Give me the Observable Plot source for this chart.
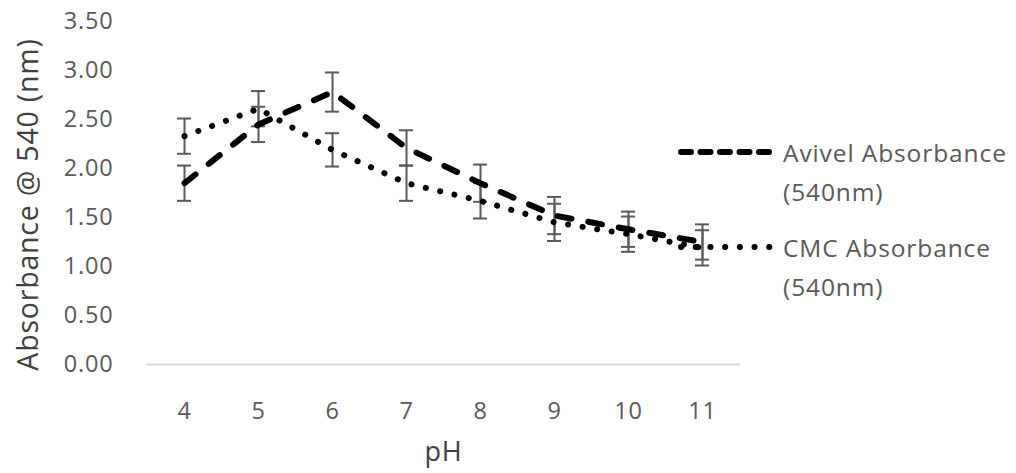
<!DOCTYPE html>
<html><head><meta charset="utf-8">
<script src="https://cdn.jsdelivr.net/npm/d3@7"></script>
<script src="https://cdn.jsdelivr.net/npm/@observablehq/plot@0.6"></script>
<style>
html,body{margin:0;padding:0;background:#fff;}
#wrap{position:relative;width:1016px;height:473px;font-family:"Open Sans",sans-serif;}
.lg{position:absolute;font-size:24.5px;color:#595959;letter-spacing:0.9px;line-height:39px;}
</style></head><body>
<div id="wrap"></div>
<script>
const ph = [4, 5, 6, 7, 8, 9, 10, 11];
const avivel = [1.85, 2.45, 2.78, 2.21, 1.85, 1.52, 1.38, 1.25];
const avivelErr = [0.18, 0.18, 0.20, 0.18, 0.19, 0.19, 0.18, 0.18];
const cmc = [2.33, 2.61, 2.19, 1.85, 1.67, 1.45, 1.33, 1.19];
const cmcErr = [0.18, 0.18, 0.17, 0.18, 0.18, 0.19, 0.18, 0.18];
const seriesNames = ["Avivel Absorbance (540nm)", "CMC Absorbance (540nm)"];
const yTicks = [0, 0.5, 1, 1.5, 2, 2.5, 3, 3.5];
const yTitle = "Absorbance @ 540 (nm)";
const xTitle = "pH";

const rows = [];
ph.forEach((p, i) => {
  rows.push({ph: p, series: seriesNames[0], v: avivel[i], e: avivelErr[i]});
  rows.push({ph: p, series: seriesNames[1], v: cmc[i], e: cmcErr[i]});
});
const av = rows.filter(d => d.series === seriesNames[0]);
const cm = rows.filter(d => d.series === seriesNames[1]);
const errColor = "#595959";

const chart = Plot.plot({
  width: 1016, height: 473,
  marginLeft: 146, marginRight: 276, marginTop: 21, marginBottom: 109,
  style: {fontFamily: "Open Sans, sans-serif", fontSize: "23.5px", color: "#595959", letterSpacing: "0.8px"},
  x: {type: "point", domain: ph, padding: 0.5},
  y: {domain: [0, 3.5]},
  marks: [
    Plot.ruleY([0], {stroke: "#d9d9d9", strokeWidth: 2}),
    Plot.axisY({ticks: yTicks, tickFormat: d3.format(".2f"), tickSize: 0, tickPadding: 33, label: null, fill: "#595959"}),
    Plot.axisX({tickSize: 0, tickPadding: 38, label: null, fill: "#595959"}),
    Plot.text([yTitle], {frameAnchor: "left", rotate: -90, dx: -118, dy: 11.5, lineAnchor: "middle", textAnchor: "middle",
      fontSize: 28.5, fill: "#404040", text: d => d}),
    Plot.text([xTitle], {frameAnchor: "bottom", dy: 88, lineAnchor: "middle", textAnchor: "middle",
      fontSize: 27, fill: "#404040", text: d => d}),
    Plot.ruleX(rows, {x: "ph", y1: d => d.v - d.e, y2: d => d.v + d.e, stroke: errColor, strokeWidth: 2}),
    Plot.ruleY(rows, {x1: "ph", x2: "ph", y: d => d.v - d.e, stroke: errColor, strokeWidth: 2, insetLeft: -7, insetRight: -7}),
    Plot.ruleY(rows, {x1: "ph", x2: "ph", y: d => d.v + d.e, stroke: errColor, strokeWidth: 2, insetLeft: -7, insetRight: -7}),
    Plot.line(cm, {x: "ph", y: "v", stroke: "#000", strokeWidth: 6, strokeDasharray: "0.1 14.6", strokeLinecap: "round"}),
    Plot.line(av, {x: "ph", y: "v", stroke: "#000", strokeWidth: 6, strokeDasharray: "14 17", strokeLinecap: "round"})
  ]
});
const wrap = document.getElementById("wrap");
wrap.appendChild(chart);

function legendItem(top, dash, x1, text1, text2) {
  const div = document.createElement("div");
  div.className = "lg";
  div.style.left = "783px";
  div.style.top = top + "px";
  div.innerHTML = `<div>${text1}</div><div>${text2}</div>`;
  wrap.appendChild(div);
  const s = d3.select(wrap).append("svg").attr("width", 110).attr("height", 20)
    .style("position", "absolute").style("left", "672px").style("top", (top + 9) + "px");
  s.append("line").attr("x1", x1).attr("x2", 100).attr("y1", 10).attr("y2", 10)
    .attr("stroke", "#000").attr("stroke-width", 6).attr("stroke-linecap", "round")
    .attr("stroke-dasharray", dash);
}
legendItem(133, "10 9.5", 9, "Avivel Absorbance", "(540nm)");
legendItem(228, "0.1 14.6", 9, "CMC Absorbance", "(540nm)");
</script>
</body></html>
